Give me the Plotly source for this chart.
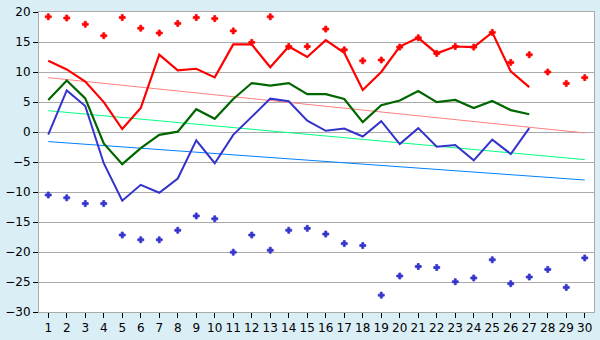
import plotly.graph_objects as go

days = list(range(1, 31))
days_line = list(range(1, 28))

max_line = [11.86, 10.43, 8.42, 4.98, 0.5, 4.0, 12.9, 10.27, 10.54, 9.1,
            14.6, 14.6, 10.8, 14.25, 12.5, 15.3, 13.2, 7.0, 10.0, 14.25,
            15.7, 13.1, 14.25, 14.15, 16.6, 10.1, 7.47]
mean_line = [5.35, 8.58, 5.61, -1.9, -5.36, -2.7, -0.48, 0.05, 3.8, 2.2,
             5.5, 8.16, 7.73, 8.16, 6.3, 6.3, 5.5, 1.65, 4.45, 5.25,
             6.83, 4.98, 5.35, 4.0, 5.18, 3.65, 2.96]
min_line = [-0.43, 6.93, 4.34, -5.2, -11.45, -8.8, -10.13, -7.75, -1.38, -5.2,
            -0.48, 2.48, 5.56, 5.13, 1.9, 0.2, 0.57, -0.75, 1.8, -2.02,
            0.64, -2.45, -2.18, -4.72, -1.27, -3.66, 0.64]
max_record = [19.2, 19.0, 17.96, 16.05, 19.07, 17.3, 16.5, 18.1, 19.07, 18.9,
              16.85, 14.94, 19.2, 14.25, 14.25, 17.15, 13.7, 11.86, 12.0, 14.15,
              15.7, 13.1, 14.25, 14.15, 16.6, 11.6, 12.87, 10.0, 8.1, 9.06]
min_record = [-10.5, -10.97, -11.93, -11.93, -17.17, -17.97, -17.97, -16.38, -13.99, -14.47,
              -20.03, -17.17, -19.7, -16.38, -16.06, -17.01, -18.6, -18.92, -27.19, -24.0,
              -22.42, -22.58, -24.96, -24.33, -21.3, -25.28, -24.17, -22.9, -25.9, -20.99]
trend_x = [1, 30]
trend_max = [9.06, -0.16]
trend_mean = [3.55, -4.6]
trend_min = [-1.6, -8.0]

fig = go.Figure()
fig.add_trace(go.Scatter(x=trend_x, y=trend_max, mode="lines", line=dict(color="#ff8080", width=1)))
fig.add_trace(go.Scatter(x=trend_x, y=trend_mean, mode="lines", line=dict(color="#00ff80", width=1)))
fig.add_trace(go.Scatter(x=trend_x, y=trend_min, mode="lines", line=dict(color="#0080ff", width=1)))
fig.add_trace(go.Scatter(x=days_line, y=min_line, mode="lines", line=dict(color="#3333cc", width=2)))
fig.add_trace(go.Scatter(x=days_line, y=mean_line, mode="lines", line=dict(color="#006600", width=2.2)))
fig.add_trace(go.Scatter(x=days_line, y=max_line, mode="lines", line=dict(color="#ff0000", width=2.2)))
fig.add_trace(go.Scatter(x=days, y=max_record, mode="markers",
                         marker=dict(symbol="cross", size=5, color="#ff0000",
                                     line=dict(width=0.8, color="#ff0000"))))
fig.add_trace(go.Scatter(x=days, y=min_record, mode="markers",
                         marker=dict(symbol="cross", size=5, color="#3333cc",
                                     line=dict(width=0.8, color="#3333cc"))))

fig.update_layout(
    width=600, height=340,
    margin=dict(l=26, r=5, t=5, b=20),
    paper_bgcolor="#daeef5",
    plot_bgcolor="#ffffff",
    showlegend=False,
    font=dict(family="DejaVu Sans", size=12, color="#000000"),
)
fig.update_xaxes(
    range=[0.5, 30.5], tickmode="linear", tick0=1, dtick=1,
    showgrid=False, zeroline=False,
    showline=True, linecolor="#aaaaaa", linewidth=1, mirror=True,
    ticks="outside", ticklen=5, tickcolor="#000000", tickwidth=1,
)
fig.update_yaxes(
    range=[-30, 20], tickmode="linear", tick0=-30, dtick=5,
    showgrid=True, gridcolor="#aaaaaa", gridwidth=1, zeroline=False,
    showline=True, linecolor="#aaaaaa", linewidth=1, mirror=True,
    ticks="outside", ticklen=5, tickcolor="#000000", tickwidth=1,
    ticklabeloverflow="allow",
)

fig.write_html("out.html")
